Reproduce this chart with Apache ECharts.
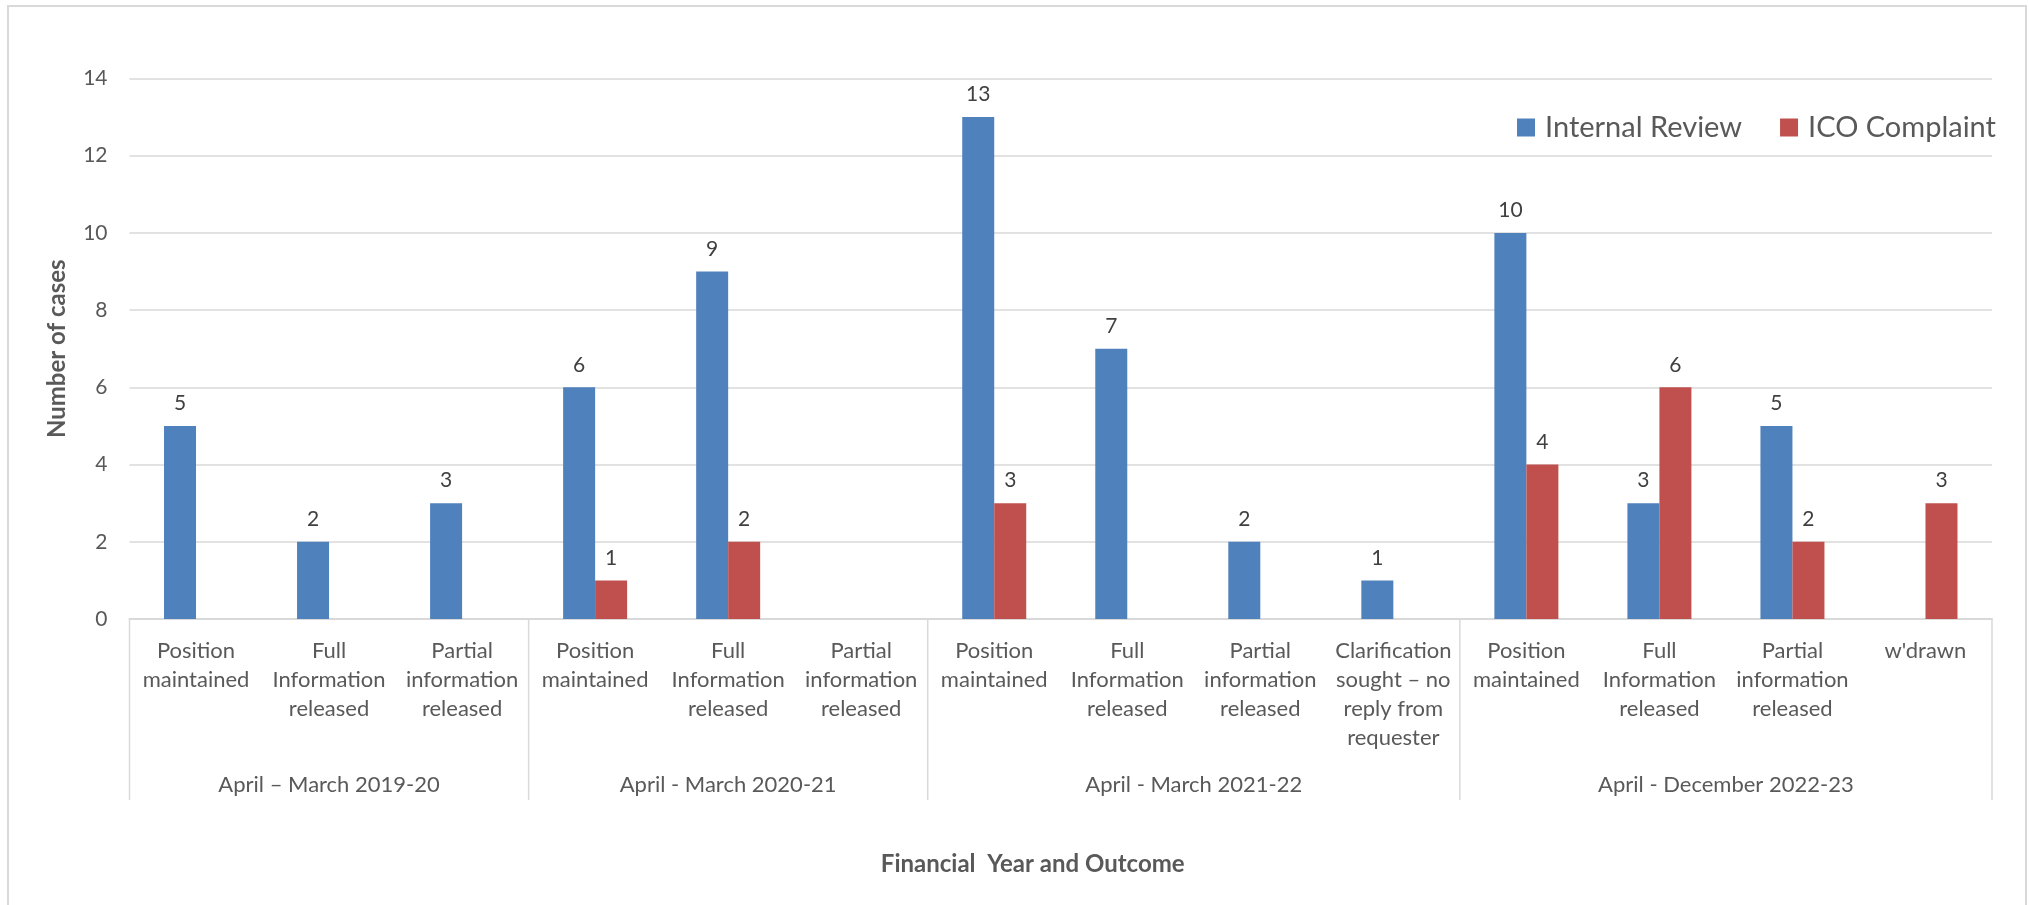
<!DOCTYPE html>
<html>
<head>
<meta charset="utf-8">
<script src="https://cdn.jsdelivr.net/npm/echarts@6/dist/echarts.min.js"></script>
<style>
  html, body { margin: 0; padding: 0; background: #ffffff; }
  #chart { width: 2029px; height: 905px; }
</style>
</head>
<body>
<div id="chart"></div>
<script>
// ---- data ----
const categories = [
  "Position\nmaintained", "Full\nInformation\nreleased", "Partial\ninformation\nreleased",
  "Position\nmaintained", "Full\nInformation\nreleased", "Partial\ninformation\nreleased",
  "Position\nmaintained", "Full\nInformation\nreleased", "Partial\ninformation\nreleased",
  "Clarification\nsought – no\nreply from\nrequester",
  "Position\nmaintained", "Full\nInformation\nreleased", "Partial\ninformation\nreleased", "w'drawn"
];
const groupNames = ["April – March 2019-20", "April - March 2020-21", "April - March 2021-22", "April - December 2022-23"];
const groupSizes = [3, 3, 4, 4];
const internalReview = [5, 2, 3, 6, 9, null, 13, 7, 2, 1, 10, 3, 5, null];
const icoComplaint = [null, null, null, 1, 2, null, 3, null, null, null, 4, 6, 2, 3];
const yTicks = { min: 0, max: 14, interval: 2 };

const FONT = "Lato, 'Liberation Sans', sans-serif";
const GRID_COLOR = "#D9D9D9";
const TEXT_COLOR = "#595959";

const chart = echarts.init(document.getElementById('chart'), null, { renderer: 'canvas' });

const labelCfg = {
  show: true, position: 'top', distance: 12,
  fontFamily: FONT, fontSize: 21, color: '#404040'
};

chart.setOption({
  animation: false,
  backgroundColor: '#ffffff',
  textStyle: { fontFamily: FONT },
  legend: {
    right: 28, top: 108,
    icon: 'rect', itemWidth: 18, itemHeight: 18, itemGap: 38,
    textStyle: { fontFamily: FONT, fontSize: 29, color: TEXT_COLOR, padding: [0, 0, 0, 5] },
    data: ['Internal Review', 'ICO Complaint']
  },
  grid: { left: 129.5, right: 37, top: 78.5, bottom: 286, containLabel: false },
  xAxis: {
    type: 'category',
    data: categories,
    name: 'Financial  Year and Outcome',
    nameLocation: 'middle',
    nameGap: 233,
    nameTextStyle: { fontFamily: FONT, fontSize: 24, fontWeight: 'bold', color: TEXT_COLOR, padding: [0, 56, 0, 0] },
    axisLine: { lineStyle: { color: GRID_COLOR, width: 2 } },
    axisTick: { show: false },
    axisLabel: { interval: 0, margin: 17, fontFamily: FONT, fontSize: 22, lineHeight: 29, color: TEXT_COLOR }
  },
  yAxis: {
    type: 'value',
    min: yTicks.min, max: yTicks.max, interval: yTicks.interval,
    name: 'Number of cases',
    nameLocation: 'middle',
    nameGap: 60,
    nameTextStyle: { fontFamily: FONT, fontSize: 24, fontWeight: 'bold', color: TEXT_COLOR },
    axisLine: { show: false },
    axisTick: { show: false },
    axisLabel: { margin: 22, fontFamily: FONT, fontSize: 21, color: TEXT_COLOR },
    splitLine: { lineStyle: { color: GRID_COLOR, width: 1.5 } }
  },
  series: [
    {
      name: 'Internal Review', type: 'bar', data: internalReview,
      barWidth: 32, barGap: '0%',
      itemStyle: { color: '#4F81BD' },
      label: labelCfg
    },
    {
      name: 'ICO Complaint', type: 'bar', data: icoComplaint,
      barWidth: 32, barGap: '0%',
      itemStyle: { color: '#C0504D' },
      label: labelCfg
    }
  ]
});

function drawGroups() {
  const c0 = chart.convertToPixel({ xAxisIndex: 0 }, 0);
  const c1 = chart.convertToPixel({ xAxisIndex: 0 }, 1);
  const bw = c1 - c0;
  const yAxisPx = chart.convertToPixel({ yAxisIndex: 0 }, 0);
  const sepBottom = yAxisPx + 181;
  const labelY = yAxisPx + 166;
  const elements = [];
  // chart-area border
  elements.push({
    type: 'rect', silent: true,
    shape: { x: 8, y: 6, width: 2018, height: 1000 },
    style: { fill: 'none', stroke: GRID_COLOR, lineWidth: 2 }
  });
  let start = 0;
  const boundary = (i) => c0 + (i) * bw - bw / 2;
  elements.push({
    type: 'line', silent: true,
    shape: { x1: boundary(0), y1: yAxisPx, x2: boundary(0), y2: sepBottom },
    style: { stroke: GRID_COLOR, lineWidth: 1.5 }
  });
  groupSizes.forEach((size, g) => {
    const end = start + size;
    const xL = boundary(start), xR = boundary(end);
    elements.push({
      type: 'line', silent: true,
      shape: { x1: xR, y1: yAxisPx, x2: xR, y2: sepBottom },
      style: { stroke: GRID_COLOR, lineWidth: 1.5 }
    });
    elements.push({
      type: 'text', silent: true,
      x: (xL + xR) / 2, y: labelY,
      style: {
        text: groupNames[g], fill: TEXT_COLOR, fontSize: 22, fontFamily: FONT,
        align: 'center', verticalAlign: 'middle'
      }
    });
    start = end;
  });
  chart.setOption({ graphic: elements });
}
drawGroups();
</script>
</body>
</html>
